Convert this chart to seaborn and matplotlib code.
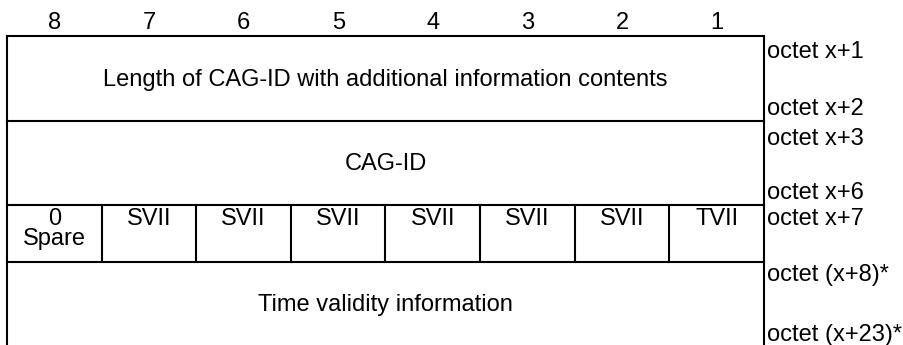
import matplotlib
matplotlib.use("Agg")
import matplotlib.pyplot as plt
import seaborn as sns

# ---- content ----
bit_numbers = ["8", "7", "6", "5", "4", "3", "2", "1"]
field_texts = ["Length of CAG-ID with additional information contents",
               "CAG-ID",
               None,
               "Time validity information"]
flag_texts = ["0\nSpare", "SVII", "SVII", "SVII", "SVII", "SVII", "SVII", "TVII"]
octet_labels = ["octet x+1", "octet x+2", "octet x+3", "octet x+6",
                "octet x+7", "octet (x+8)*", "octet (x+23)*"]

# ---- layout (pixel space) ----
W, H = 904, 345
left, right = 7, 764
row_edges = [36, 121, 205, 262, 345]
header_baseline = 29
octet_baselines = [58, 115, 145, 199, 225, 281, 341]
FS = 17
LW = 1.5

sns.set_theme(style="white")
plt.rcParams["font.family"] = ["Liberation Sans", "DejaVu Sans"]
plt.rcParams["text.color"] = "black"

fig = plt.figure(figsize=(W / 100, H / 100), dpi=100)
ax = fig.add_axes([0, 0, 1, 1])
ax.set_xlim(0, W)
ax.set_ylim(H, 0)
ax.axis("off")

ncol = len(bit_numbers)
colw = (right - left) / ncol
col_edges = [left + i * colw for i in range(ncol + 1)]
col_centers = [(col_edges[i] + col_edges[i + 1]) / 2 for i in range(ncol)]

line_kw = dict(color="black", lw=LW, solid_capstyle="projecting")

# outer verticals (no bottom border: table continues)
ax.plot([left, left], [row_edges[0], H + 5], **line_kw)
ax.plot([right, right], [row_edges[0], H + 5], **line_kw)
# horizontals
for y in row_edges[:-1]:
    ax.plot([left, right], [y, y], **line_kw)

# header bit numbers
for x, b in zip(col_centers, bit_numbers):
    ax.text(x, header_baseline, b, ha="center", va="baseline", fontsize=FS)

# rows
mid_x = (left + right) / 2
for i, t in enumerate(field_texts):
    top, bot = row_edges[i], row_edges[i + 1]
    if t is not None:
        ax.text(mid_x, (top + bot) / 2 + 7.5, t, ha="center", va="baseline", fontsize=FS)
    else:
        # bit-field row
        for j in range(1, ncol):
            ax.plot([col_edges[j], col_edges[j]], [top, bot], **line_kw)
        for x, ft in zip(col_centers, flag_texts):
            for k, line in enumerate(ft.split("\n")):
                ax.text(x, top + 20 + k * 20.5, line, ha="center", va="baseline", fontsize=FS)

# octet labels
for y, lab in zip(octet_baselines, octet_labels):
    ax.text(right + 3, y, lab, ha="left", va="baseline", fontsize=FS)

fig.savefig("out.png", dpi=100, facecolor="white")
